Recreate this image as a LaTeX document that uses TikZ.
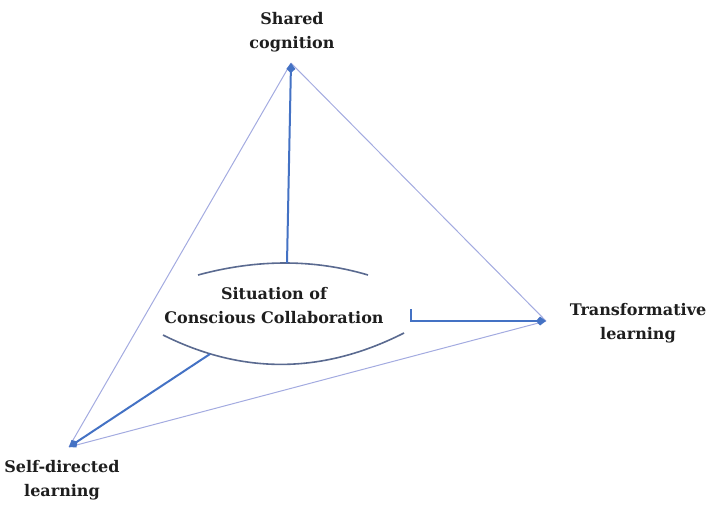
\documentclass[tikz,border=0pt]{standalone}
\usepackage{fontspec}
\setmainfont{DejaVu Serif}
\usetikzlibrary{arrows.meta}
\definecolor{thickblue}{HTML}{4472C4}
\definecolor{thinlav}{HTML}{A3ABE0}
\definecolor{arcgray}{HTML}{5A6A90}
\definecolor{txt}{HTML}{1E1E1E}
\tikzset{
  lbl/.style={font=\fontsize{16}{24}\selectfont\bfseries, text=txt, align=center, inner sep=0pt},
  thickline/.style={draw=thickblue, line width=2pt},
  thinline/.style={draw=thinlav, line width=1pt},
  arcline/.style={draw=arcgray, line width=1.6pt},
  tip/.style={-{Kite[length=10pt,width=9pt,inset=4pt]}}
}
\begin{document}
\begin{tikzpicture}[x=1pt,y=-1pt]
\useasboundingbox (0,0) rectangle (711,504);
% apex points
\coordinate (SC) at (291,63);
\coordinate (TL) at (546,321);
\coordinate (SD) at (69,447);
% labels
\node[lbl] (sclbl) at (292,32) {Shared\\cognition};
\node[lbl] (tllbl) at (638,323) {Transformative\\learning};
\node[lbl] (sdlbl) at (62,480) {Self-directed\\learning};
\node[lbl] (center) at (274,306) {Situation of\\Conscious Collaboration};
% thin triangle
\draw[thinline] (SC) -- (SD);
\draw[thinline] (SC) -- (TL);
\draw[thinline] (SD) -- (TL);
% ellipse arcs
\coordinate (aTL) at (198,275);
\coordinate (aTR) at (368,275);
\coordinate (aTop) at (287,263);
\coordinate (aBL) at (163,335);
\coordinate (aBR) at (404,333);
\coordinate (aBpt) at (210,354);
\draw[arcline] (aTL) .. controls (257,259) and (314,259) .. (aTR);
\draw[arcline] (aBL) .. controls (243,375) and (323,374) .. (aBR);
% bracket on right
\coordinate (tkT) at (411,309);
\coordinate (tkB) at (411,321);
% thick connectors
\draw[thickline, tip] (aTop) -- (SC);
\draw[thickline, tip] (tkT) -- (tkB) -- (TL);
\draw[thickline, tip] (aBpt) -- (SD);
\end{tikzpicture}
\end{document}
